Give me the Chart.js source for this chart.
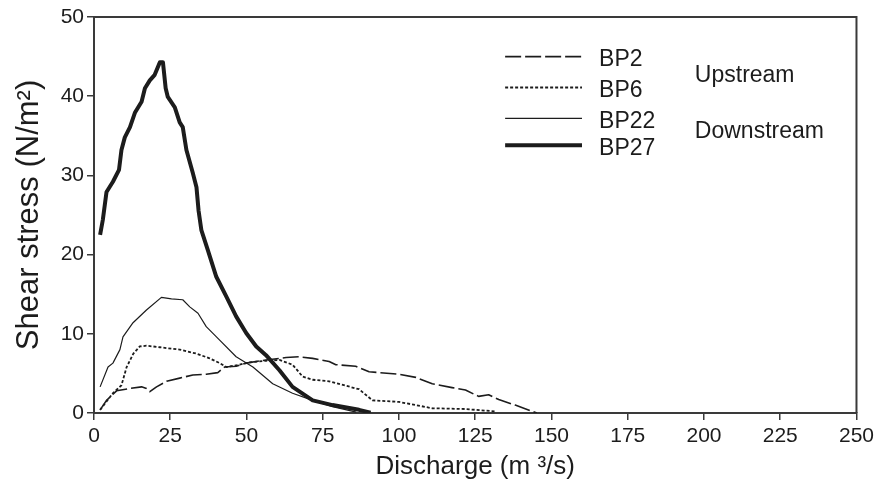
<!DOCTYPE html>
<html>
<head>
<meta charset="utf-8">
<script src="https://cdn.jsdelivr.net/npm/chart.js@4.4.1/dist/chart.umd.min.js"></script>
<style>
  html, body { margin: 0; padding: 0; background: #fff; }
  #wrap { width: 878px; height: 491px; }
</style>
</head>
<body>
<div id="wrap"><canvas id="c" width="878" height="491"></canvas></div>
<script>
// ---- data ----
const seriesNames = ["BP2", "BP6", "BP22", "BP27"];
const groupLabels = ["Upstream", "Downstream"];
const xTitle = "Discharge (m \u00B3/s)";
const yTitle = "Shear stress (N/m\u00B2)";

const bp2Q   = [2, 4.1, 7.4, 11.8, 15.6, 17.2, 18.3, 20.5, 23.8, 28.1, 32.4, 36.8, 40.6, 42.8, 46.6, 49.9, 56.4, 63.0, 67.3, 71.7, 77.1, 79.3, 85.8, 90.2, 100, 105.5, 110.9, 117.4, 121.8, 126.1, 129.4, 132.7, 138.1, 145.2];
const bp2Tau = [0.4, 1.6, 2.8, 3.1, 3.3, 3.1, 2.7, 3.3, 4.0, 4.4, 4.8, 4.9, 5.1, 5.8, 5.9, 6.3, 6.7, 7.0, 7.1, 6.9, 6.5, 6.1, 5.9, 5.2, 4.9, 4.5, 3.7, 3.2, 2.9, 2.1, 2.3, 1.7, 1.0, 0.0];

const bp6Q   = [2, 6.2, 9.0, 10.7, 12.9, 15.0, 17.2, 21.6, 28.1, 33.6, 37.9, 41.2, 43.4, 47.7, 51.0, 56.4, 60.8, 65.1, 68.4, 71.7, 77.1, 86.9, 91.3, 100, 105.5, 110.9, 121.8, 131.6];
const bp6Tau = [0.4, 2.5, 3.5, 5.8, 7.5, 8.4, 8.5, 8.3, 8.0, 7.5, 6.9, 6.3, 5.8, 6.1, 6.4, 6.6, 6.7, 6.1, 4.6, 4.2, 4.0, 3.0, 1.6, 1.4, 1.0, 0.6, 0.5, 0.2];

const bp22Q   = [2.0, 4.6, 6.2, 8.5, 9.5, 12.8, 17.2, 22.1, 25.4, 29.1, 31.4, 34.1, 36.8, 41.2, 46.6, 52.1, 58.6, 65.1, 71.7, 78.2, 86.0];
const bp22Tau = [3.3, 5.8, 6.3, 8.0, 9.6, 11.4, 13.0, 14.6, 14.4, 14.3, 13.4, 12.6, 10.9, 9.2, 7.1, 5.8, 3.7, 2.5, 1.6, 0.8, 0.1];

const bp27Q   = [2, 2.9, 4.1, 6.2, 8.2, 9.0, 10.1, 11.8, 13.4, 15.6, 16.7, 18.3, 19.9, 21.6, 22.6, 23.5, 24.2, 26.5, 28.1, 29.1, 30.3, 32.4, 33.6, 34.3, 35.2, 37.3, 40.1, 43.4, 46.6, 49.9, 53.2, 56.4, 60.8, 65.1, 71.7, 78.2, 86.9, 90.7];
const bp27Tau = [22.5, 24.4, 27.9, 29.2, 30.7, 33.2, 34.8, 36.1, 37.9, 39.3, 41.0, 42.0, 42.7, 44.3, 44.3, 41.0, 39.9, 38.6, 36.7, 36.1, 33.2, 30.3, 28.5, 25.5, 23.1, 20.6, 17.2, 14.7, 12.2, 10.1, 8.4, 7.3, 5.4, 3.3, 1.6, 1.0, 0.4, 0.05];

const xTicks = [0, 25, 50, 75, 100, 125, 150, 175, 200, 225, 250];
const yTicks = [0, 10, 20, 30, 40, 50];

// ---- build chart ----
const toPts = (xs, ys) => xs.map((x, i) => ({ x: x, y: ys[i] }));
const INK = '#1c1c1c';
const AXIS = '#3a3a3a';
const FONT = '"Liberation Sans", Arial, Helvetica, sans-serif';

const styles = [
  { borderWidth: 1.6, borderDash: [16, 4] },
  { borderWidth: 1.8, borderDash: [3, 2] },
  { borderWidth: 1.2, borderDash: [] },
  { borderWidth: 4,   borderDash: [] }
];
const seriesData = [toPts(bp2Q, bp2Tau), toPts(bp6Q, bp6Tau), toPts(bp22Q, bp22Tau), toPts(bp27Q, bp27Tau)];

const datasets = seriesNames.map((name, i) => ({
  label: name,
  data: seriesData[i],
  borderColor: INK,
  backgroundColor: INK,
  borderWidth: styles[i].borderWidth,
  borderDash: styles[i].borderDash,
  borderCapStyle: 'butt',
  borderJoinStyle: 'round',
  pointRadius: 0,
  tension: 0,
  fill: false
}));

const framePlugin = {
  id: 'frame',
  afterDatasetsDraw(chart) {
    const { ctx, chartArea: a } = chart;
    ctx.save();
    ctx.strokeStyle = AXIS;
    ctx.lineWidth = 2;
    ctx.beginPath();
    ctx.moveTo(a.left, a.top);
    ctx.lineTo(a.right, a.top);
    ctx.lineTo(a.right, a.bottom);
    ctx.stroke();
    ctx.restore();
  }
};

const legendPlugin = {
  id: 'customLegend',
  afterDraw(chart) {
    const { ctx } = chart;
    const xs = chart.scales.x, ys = chart.scales.y;
    // legend anchored in data space
    const lineX0 = xs.getPixelForValue(134.8), lineX1 = xs.getPixelForValue(160.0);
    const textX = xs.getPixelForValue(165.6);
    const rowsY = [45.0, 41.1, 37.2, 33.8].map(v => ys.getPixelForValue(v));
    ctx.save();
    ctx.font = '23px ' + FONT;
    ctx.fillStyle = INK;
    ctx.textBaseline = 'middle';
    ctx.textAlign = 'left';
    chart.data.datasets.forEach((ds, i) => {
      ctx.strokeStyle = INK;
      ctx.lineWidth = ds.borderWidth;
      ctx.setLineDash(ds.borderDash);
      ctx.lineCap = 'butt';
      ctx.beginPath();
      ctx.moveTo(lineX0, rowsY[i]);
      ctx.lineTo(lineX1, rowsY[i]);
      ctx.stroke();
      ctx.setLineDash([]);
      ctx.fillText(ds.label, textX, rowsY[i] + 3);
    });
    const gx = xs.getPixelForValue(197);
    ctx.fillText(groupLabels[0], gx, ys.getPixelForValue(42.6));
    ctx.fillText(groupLabels[1], gx, ys.getPixelForValue(35.5));
    ctx.restore();
  }
};

new Chart(document.getElementById('c'), {
  type: 'line',
  data: { datasets: datasets },
  options: {
    responsive: false,
    animation: false,
    devicePixelRatio: 1,
    layout: { padding: { top: 17, right: 19, left: 0, bottom: 0 } },
    plugins: { legend: { display: false }, tooltip: { enabled: false } },
    scales: {
      x: {
        type: 'linear',
        min: 0, max: 250,
        afterBuildTicks: (s) => { s.ticks = xTicks.map(v => ({ value: v })); },
        afterFit: (s) => { s.height = 78; },
        ticks: { color: INK, font: { family: FONT, size: 21 }, padding: 4, maxRotation: 0, autoSkip: false },
        grid: { display: true, drawOnChartArea: false, drawTicks: true, tickLength: 7, color: AXIS, lineWidth: 1.5 },
        border: { display: true, color: AXIS, width: 2 },
        title: { display: true, text: xTitle, color: INK, font: { family: FONT, size: 26 }, padding: { top: 0, bottom: 9 } }
      },
      y: {
        type: 'linear',
        min: 0, max: 50,
        afterBuildTicks: (s) => { s.ticks = yTicks.map(v => ({ value: v })); },
        afterFit: (s) => { s.width = 94; },
        ticks: { color: INK, font: { family: FONT, size: 21 }, padding: 3 },
        grid: { display: true, drawOnChartArea: false, drawTicks: true, tickLength: 7, color: AXIS, lineWidth: 1.5 },
        border: { display: true, color: AXIS, width: 2 },
        title: { display: true, text: yTitle, color: INK, font: { family: FONT, size: 31 }, padding: { top: 11, bottom: 0 } }
      }
    }
  },
  plugins: [framePlugin, legendPlugin]
});
</script>
</body>
</html>
